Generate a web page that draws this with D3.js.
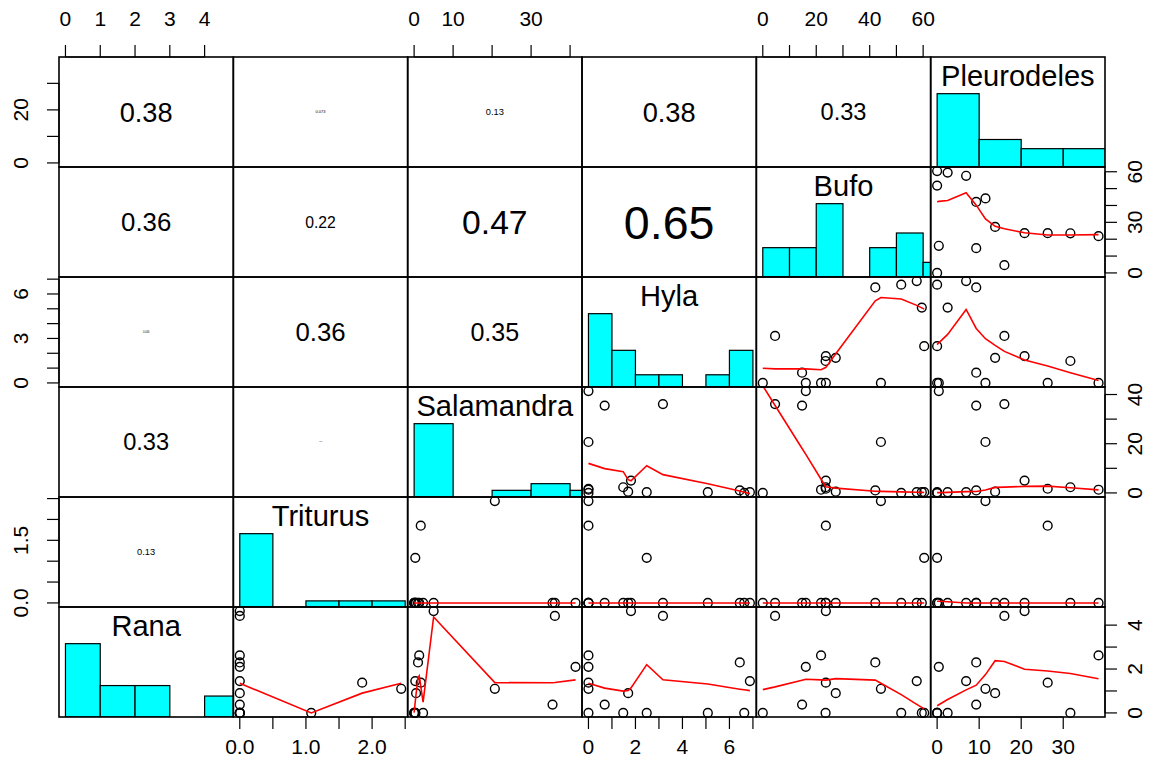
<!DOCTYPE html>
<html>
<head>
<meta charset="utf-8">
<script src="https://cdn.jsdelivr.net/npm/d3@7"></script>
<style>
  body { margin: 0; background: #fff; }
  text { font-family: "Liberation Sans", Arial, Helvetica, sans-serif; }
</style>
</head>
<body>
<div id="chart"></div>
<script>
// Variables, left to right (rows run the other way, bottom to top)
const varNames = ["Rana", "Triturus", "Salamandra", "Hyla", "Bufo", "Pleurodeles"];

// One value per site
const Rana        = [0, 0, 1.45, 0, 2.3, 1.1, 0.9, 4.64, 1.38, 0, 2.62, 2.1, 0.38, 4.42, 0];
const Triturus    = [1.08, 0, 0, 0, 0, 2.44, 0, 0, 1.85, 0, 0, 0, 0, 0, 0];
const Salamandra  = [0.3, 0.3, 0.3, 0, 1.0, 20.7, 0.5, 5.0, 1.7, 2.3, 1.3, 41.4, 35.5, 36.1, 0];
const Hyla        = [2.48, 5.08, 6.87, 6.63, 6.44, 0, 1.69, 1.81, 0, 1.48, 0, 0, 0.69, 3.17, 0];
const Bufo        = [60.4, 59.5, 57.6, 51.8, 42.1, 44.2, 27.3, 23.6, 23.6, 23.5, 21.8, 16.1, 14.7, 4.6, 0];
const Pleurodeles = [0, 2.5, 6.9, 0, 9.3, 11.5, 13.8, 20.8, 26.3, 31.7, 38.4, 0.4, 9.3, 16.0, 0];

// |r| printed in the upper panels (row variable vs Rana, Triturus, ...)
const corPleurodeles = [0.38, 0.073, 0.13, 0.38, 0.33];
const corBufo        = [0.36, 0.22, 0.47, 0.65];
const corHyla        = [0.046, 0.36, 0.35];
const corSalamandra  = [0.33, 0.0093];
const corTriturus    = [0.13];

const data = { Rana, Triturus, Salamandra, Hyla, Bufo, Pleurodeles };
const corRows = { Pleurodeles: corPleurodeles, Bufo: corBufo, Hyla: corHyla,
                  Salamandra: corSalamandra, Triturus: corTriturus };

const width = 1151, height = 768;
const padL = 59, padR = 1105, padT = 57, padB = 717;
const nVar = varNames.length;
const pw = (padR - padL) / nVar, ph = (padB - padT) / nVar;
const rowNames = varNames.slice().reverse();   // top row first
const axisFont = 21, tickLen = 12, labelGap = 18.3;
const font = '"Liberation Sans", Arial, Helvetica, sans-serif';

const svg = d3.select("#chart").append("svg")
  .attr("width", width).attr("height", height)
  .attr("viewBox", [0, 0, width, height]);
const defs = svg.append("defs");

// R style pretty()
function rPretty(lo, hi, ndiv, h, h5) {
  const cell = (hi - lo) / ndiv;
  const base = Math.pow(10, Math.floor(Math.log10(cell)));
  let unit = base;
  if (2 * base - cell < h * (cell - unit)) {
    unit = 2 * base;
    if (5 * base - cell < h5 * (cell - unit)) {
      unit = 5 * base;
      if (10 * base - cell < h * (cell - unit)) unit = 10 * base;
    }
  }
  return { unit, lo: Math.floor(lo / unit + 1e-7), hi: Math.ceil(hi / unit - 1e-7) };
}

// R's lowess (clowess), f = 2/3, iter = 3
function lowess(xIn, yIn, f = 2 / 3, nsteps = 3) {
  const N = xIn.length;
  const ord = d3.range(N).sort((a, b) => xIn[a] - xIn[b]);
  const x = [0, ...ord.map(i => xIn[i])];
  const y = [0, ...ord.map(i => yIn[i])];
  const delta = 0.01 * (x[N] - x[1]);
  const ys = new Array(N + 1).fill(0), rw = new Array(N + 1).fill(1);
  const res = new Array(N + 1).fill(0), w = new Array(N + 1).fill(0);
  const ns = Math.max(2, Math.min(N, Math.floor(f * N + 1e-7)));

  function lowest(xs, nleft, nright, userw) {
    const range = x[N] - x[1];
    const h = Math.max(xs - x[nleft], x[nright] - xs);
    const h9 = 0.999 * h, h1 = 0.001 * h;
    let a = 0, j = nleft;
    while (j <= N) {
      w[j] = 0;
      const r = Math.abs(x[j] - xs);
      if (r <= h9) {
        w[j] = r <= h1 ? 1 : Math.pow(1 - Math.pow(r / h, 3), 3);
        if (userw) w[j] *= rw[j];
        a += w[j];
      } else if (x[j] > xs) break;
      j++;
    }
    const nrt = j - 1;
    if (a <= 0) return null;
    for (j = nleft; j <= nrt; j++) w[j] /= a;
    if (h > 0) {
      a = 0;
      for (j = nleft; j <= nrt; j++) a += w[j] * x[j];
      let b = xs - a, c = 0;
      for (j = nleft; j <= nrt; j++) c += w[j] * (x[j] - a) * (x[j] - a);
      if (Math.sqrt(c) > 0.001 * range) {
        b /= c;
        for (j = nleft; j <= nrt; j++) w[j] *= (b * (x[j] - a) + 1);
      }
    }
    let out = 0;
    for (j = nleft; j <= nrt; j++) out += w[j] * y[j];
    return out;
  }

  let it = 1;
  while (it <= nsteps + 1) {
    let nleft = 1, nright = ns, last = 0, i = 1;
    for (;;) {
      if (nright < N) {
        const d1 = x[i] - x[nleft], d2 = x[nright + 1] - x[i];
        if (d1 > d2) { nleft++; nright++; continue; }
      }
      const v = lowest(x[i], nleft, nright, it > 1);
      ys[i] = v === null ? y[i] : v;
      if (last < i - 1) {
        const denom = x[i] - x[last];
        for (let j = last + 1; j < i; j++) {
          const alpha = (x[j] - x[last]) / denom;
          ys[j] = alpha * ys[i] + (1 - alpha) * ys[last];
        }
      }
      last = i;
      const cut = x[last] + delta;
      for (i = last + 1; i <= N; i++) {
        if (x[i] > cut) break;
        if (x[i] === x[last]) { ys[i] = ys[last]; last = i; }
      }
      i = Math.max(last + 1, i - 1);
      if (last >= N) break;
    }
    for (let k = 1; k <= N; k++) res[k] = y[k] - ys[k];
    let sc = 0;
    for (let k = 1; k <= N; k++) sc += Math.abs(res[k]);
    sc /= N;
    if (it > nsteps) break;
    const ar = res.slice(1).map(Math.abs).sort((a, b) => a - b);
    const m1 = Math.floor(N / 2);
    const cmad = N % 2 === 0 ? 3 * (ar[m1] + ar[N - m1 - 1]) : 6 * ar[m1];
    if (cmad < 1e-7 * sc) break;
    const c9 = 0.999 * cmad, c1 = 0.001 * cmad;
    for (let k = 1; k <= N; k++) {
      const r = Math.abs(res[k]);
      rw[k] = r <= c1 ? 1 : r <= c9 ? Math.pow(1 - Math.pow(r / cmad, 2), 2) : 0;
    }
    it++;
  }
  return x.slice(1).map((xv, k) => [xv, ys[k + 1]]);
}

// usr range with the 4% padding R adds
function usr(v) {
  const [lo, hi] = d3.extent(data[v]);
  const d = (hi - lo) * 0.04;
  return [lo - d, hi + d];
}
const xScale = {}, yScale = {};
varNames.forEach((v, j) => {
  xScale[v] = d3.scaleLinear().domain(usr(v)).range([padL + j * pw, padL + (j + 1) * pw]);
});
rowNames.forEach((v, i) => {
  yScale[v] = d3.scaleLinear().domain(usr(v)).range([padT + (i + 1) * ph, padT + i * ph]);
});

const ctx = document.createElement("canvas").getContext("2d");
function textWidth(s, size) {
  ctx.font = `${size}px ${font}`;
  return ctx.measureText(s).width;
}

function fmtCor(r) {
  const d = Math.max(2, -Math.floor(Math.log10(r)) + 1);
  return r.toFixed(d);
}

// panels
rowNames.forEach((rv, i) => {
  varNames.forEach((cv, j) => {
    const x0 = padL + j * pw, y0 = padT + i * ph;
    const g = svg.append("g");
    const clipId = `clip-${i}-${j}`;
    defs.append("clipPath").attr("id", clipId)
      .append("rect").attr("x", x0).attr("y", y0).attr("width", pw).attr("height", ph);

    if (rv === cv) {
      // histogram
      const vals = data[cv];
      const [lo, hi] = d3.extent(vals);
      const p = rPretty(lo, hi, Math.ceil(Math.log2(vals.length) + 1), 1.5, 2.75);
      const breaks = d3.range(p.lo, p.hi + 1).map(k => k * p.unit);
      const counts = breaks.slice(1).map((b, k) =>
        vals.filter(v => (k === 0 ? v >= breaks[0] : v > breaks[k]) && v <= b).length);
      const maxC = d3.max(counts);
      const hy = d3.scaleLinear().domain([0, 1.5]).range([y0 + ph, y0]);
      const xs = xScale[cv];
      g.append("g").attr("clip-path", `url(#${clipId})`)
        .selectAll("rect").data(counts).join("rect")
        .attr("x", (c, k) => xs(breaks[k]))
        .attr("width", (c, k) => xs(breaks[k + 1]) - xs(breaks[k]))
        .attr("y", c => hy(c / maxC))
        .attr("height", c => hy(0) - hy(c / maxC))
        .attr("fill", "#00ffff").attr("stroke", "#000").attr("stroke-width", 1.2);
    } else if (i + j < nVar - 1) {
      // correlation text, width proportional to |r|
      const r = corRows[rv][j];
      const txt = fmtCor(r);
      const size = Math.max(1, 100 * (0.8 * pw * r) / textWidth(txt, 100));
      g.append("text")
        .attr("x", x0 + pw / 2).attr("y", y0 + ph / 2 + 0.358 * size)
        .attr("text-anchor", "middle").attr("font-size", size).attr("fill", "#000")
        .text(txt);
    } else {
      // scatter + lowess
      const xs = xScale[cv], ys = yScale[rv];
      const xv = data[cv], yv = data[rv];
      g.append("g").selectAll("circle").data(xv).join("circle")
        .attr("cx", d => xs(d)).attr("cy", (d, k) => ys(yv[k]))
        .attr("r", 4.4).attr("fill", "none").attr("stroke", "#000").attr("stroke-width", 1.4);
      const fit = lowess(xv, yv);
      g.append("path").attr("clip-path", `url(#${clipId})`)
        .attr("d", d3.line().x(d => xs(d[0])).y(d => ys(d[1]))(fit))
        .attr("fill", "none").attr("stroke", "red").attr("stroke-width", 1.6);
    }
  });
});

// diagonal labels
const maxLab = d3.max(varNames, v => textWidth(v, 100));
const labSize = 100 * 0.9 * pw / maxLab;
rowNames.forEach((v, i) => {
  const j = varNames.indexOf(v);
  svg.append("text")
    .attr("x", padL + j * pw + pw / 2)
    .attr("y", padT + i * ph + ph * (1 - 0.8333) + 0.358 * labSize)
    .attr("text-anchor", "middle").attr("font-size", labSize).attr("fill", "#000")
    .text(v);
});

// panel frames
rowNames.forEach((rv, i) => varNames.forEach((cv, j) => {
  svg.append("rect")
    .attr("x", padL + j * pw).attr("y", padT + i * ph).attr("width", pw).attr("height", ph)
    .attr("fill", "none").attr("stroke", "#000").attr("stroke-width", 1.6);
}));

// axes
function axisTicks(scale) {
  const [a, b] = scale.domain();
  const p = rPretty(a, b, 5, 0.8, 1.7);
  return d3.range(p.lo, p.hi + 1).map(k => +(k * p.unit).toFixed(10))
    .filter(t => t >= a - 1e-9 && t <= b + 1e-9);
}
function tickLabel(t, unit) {
  return unit < 1 ? t.toFixed(1) : String(t);
}
function drawAxis(side, scale) {
  const ticks = axisTicks(scale);
  const unit = ticks.length > 1 ? ticks[1] - ticks[0] : 1;
  const g = svg.append("g");
  const horiz = side === "top" || side === "bottom";
  const base = side === "top" ? padT : side === "bottom" ? padB : side === "left" ? padL : padR;
  const dir = side === "top" || side === "left" ? -1 : 1;
  const pos = ticks.map(t => scale(t));
  if (horiz) {
    g.append("line").attr("x1", pos[0]).attr("x2", pos[pos.length - 1])
      .attr("y1", base).attr("y2", base);
  } else {
    g.append("line").attr("y1", pos[0]).attr("y2", pos[pos.length - 1])
      .attr("x1", base).attr("x2", base);
  }
  ticks.forEach((t, k) => {
    const p = pos[k];
    if (horiz) g.append("line").attr("x1", p).attr("x2", p).attr("y1", base).attr("y2", base + dir * tickLen);
    else g.append("line").attr("y1", p).attr("y2", p).attr("x1", base).attr("x2", base + dir * tickLen);
  });
  g.selectAll("line").attr("stroke", "#000").attr("stroke-width", 1.2);
  // labels from the lowest value upward, skipping ones that would crowd the last drawn one
  let lastEnd = -Infinity;
  const off = side === "top" ? -31.5 : side === "bottom" ? 36.5 : side === "left" ? -31.5 : 36.5;
  ticks.forEach((tv, k) => {
    const s = tickLabel(tv, unit);
    const w = textWidth(s, axisFont);
    const q = horiz ? pos[k] : -pos[k];
    if (q - w / 2 < lastEnd + labelGap) return;
    lastEnd = q + w / 2;
    const t = g.append("text").attr("text-anchor", "middle").attr("font-size", axisFont)
      .attr("fill", "#000").text(s);
    if (horiz) t.attr("x", pos[k]).attr("y", base + off);
    else t.attr("transform", `translate(${base + off},${pos[k]}) rotate(-90)`);
  });
}
varNames.forEach((v, j) => drawAxis(j % 2 === 0 ? "top" : "bottom", xScale[v]));
rowNames.forEach((v, i) => drawAxis(i % 2 === 0 ? "left" : "right", yScale[v]));
</script>
</body>
</html>
